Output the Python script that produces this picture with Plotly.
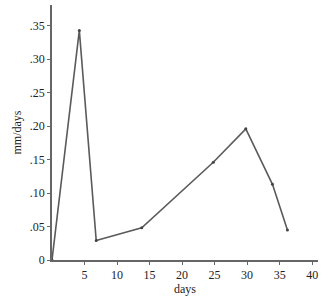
import plotly.graph_objects as go

days = [0, 4.2, 6.8, 13.8, 24.8, 29.8, 33.9, 36.2]
rate = [0.0, 0.343, 0.029, 0.048, 0.146, 0.196, 0.113, 0.045]

x_ticks = [5, 10, 15, 20, 25, 30, 35, 40]
y_ticks = [0, 0.05, 0.10, 0.15, 0.20, 0.25, 0.30, 0.35]
y_labels = ["0", ".05", ".10", ".15", ".20", ".25", ".30", ".35"]

fig = go.Figure()
fig.add_trace(go.Scatter(
    x=days, y=rate, mode="lines+markers",
    line=dict(color="#5a5a5a", width=1.6),
    marker=dict(size=3, color="#444444"),
    showlegend=False,
))

font = dict(family="Liberation Serif, Times New Roman, serif", size=12, color="#222222")

fig.update_layout(
    width=330, height=296,
    margin=dict(l=52, r=12, t=5, b=32),
    paper_bgcolor="white", plot_bgcolor="white",
    font=font,
    xaxis=dict(
        range=[0, 40.9], tickvals=x_ticks, ticktext=[str(v) for v in x_ticks],
        showgrid=False, zeroline=False, showline=True, linecolor="#666666", linewidth=1.5,
        ticks="outside", ticklen=3, tickcolor="#666666",
        title=dict(text="days", standoff=0, font=font),
    ),
    yaxis=dict(
        range=[0, 0.381], tickvals=y_ticks, ticktext=y_labels,
        showgrid=False, zeroline=False, showline=True, linecolor="#666666", linewidth=1.5,
        ticks="outside", ticklen=3, tickcolor="#666666",
        title=dict(text="mm/days", standoff=6, font=font),
    ),
)

fig.write_html("out.html")
